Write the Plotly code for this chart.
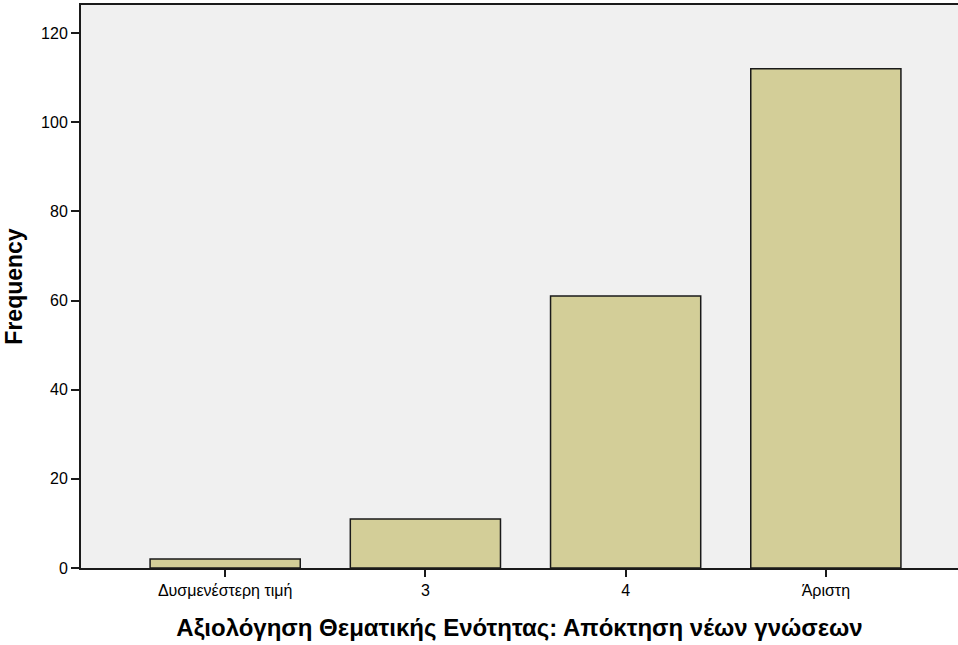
import plotly.graph_objects as go

categories = ["Δυσμενέστερη τιμή", "3", "4", "Άριστη"]
frequency = [2, 11, 61, 112]
y_ticks = [0, 20, 40, 60, 80, 100, 120]

fig = go.Figure()
fig.add_trace(go.Bar(
    x=categories, y=frequency, width=0.75,
    marker=dict(color="#D3CE98", line=dict(color="#1a1a1a", width=1.5)),
    showlegend=False,
))

fig.update_layout(
    width=958, height=645,
    margin=dict(l=81, r=0, t=5, b=77),
    paper_bgcolor="white", plot_bgcolor="#F0F0F0",
    font=dict(family="Liberation Sans, Arial, sans-serif", color="black", size=16),
    bargap=0.25,
)
fig.update_xaxes(
    range=[-0.72, 3.66], showgrid=False, zeroline=False,
    showline=True, linecolor="#1a1a1a", linewidth=2, mirror=True,
    ticks="outside", ticklen=7, tickwidth=2, tickcolor="#1a1a1a",
    tickfont=dict(size=16),
    title=dict(text="<b>Αξιολόγηση Θεματικής Ενότητας: Απόκτηση νέων γνώσεων</b>",
               font=dict(size=24), standoff=21),
)
fig.update_yaxes(
    range=[0, 126.3], showgrid=False, zeroline=False,
    showline=True, linecolor="#1a1a1a", linewidth=2,
    ticks="outside", ticklen=8, tickwidth=2, tickcolor="#1a1a1a",
    tickvals=y_ticks, tickfont=dict(size=16),
    title=dict(text="<b>Frequency</b>", font=dict(size=23), standoff=12),
)

fig.write_html("out.html", config={"displayModeBar": False})

# drop the default body margin so the plot sits at the page corner
with open("out.html", "r", encoding="utf-8") as f:
    html = f.read()
html = html.replace("<head>", "<head>\n<style>body{margin:0;overflow:hidden}</style>", 1)
with open("out.html", "w", encoding="utf-8") as f:
    f.write(html)
